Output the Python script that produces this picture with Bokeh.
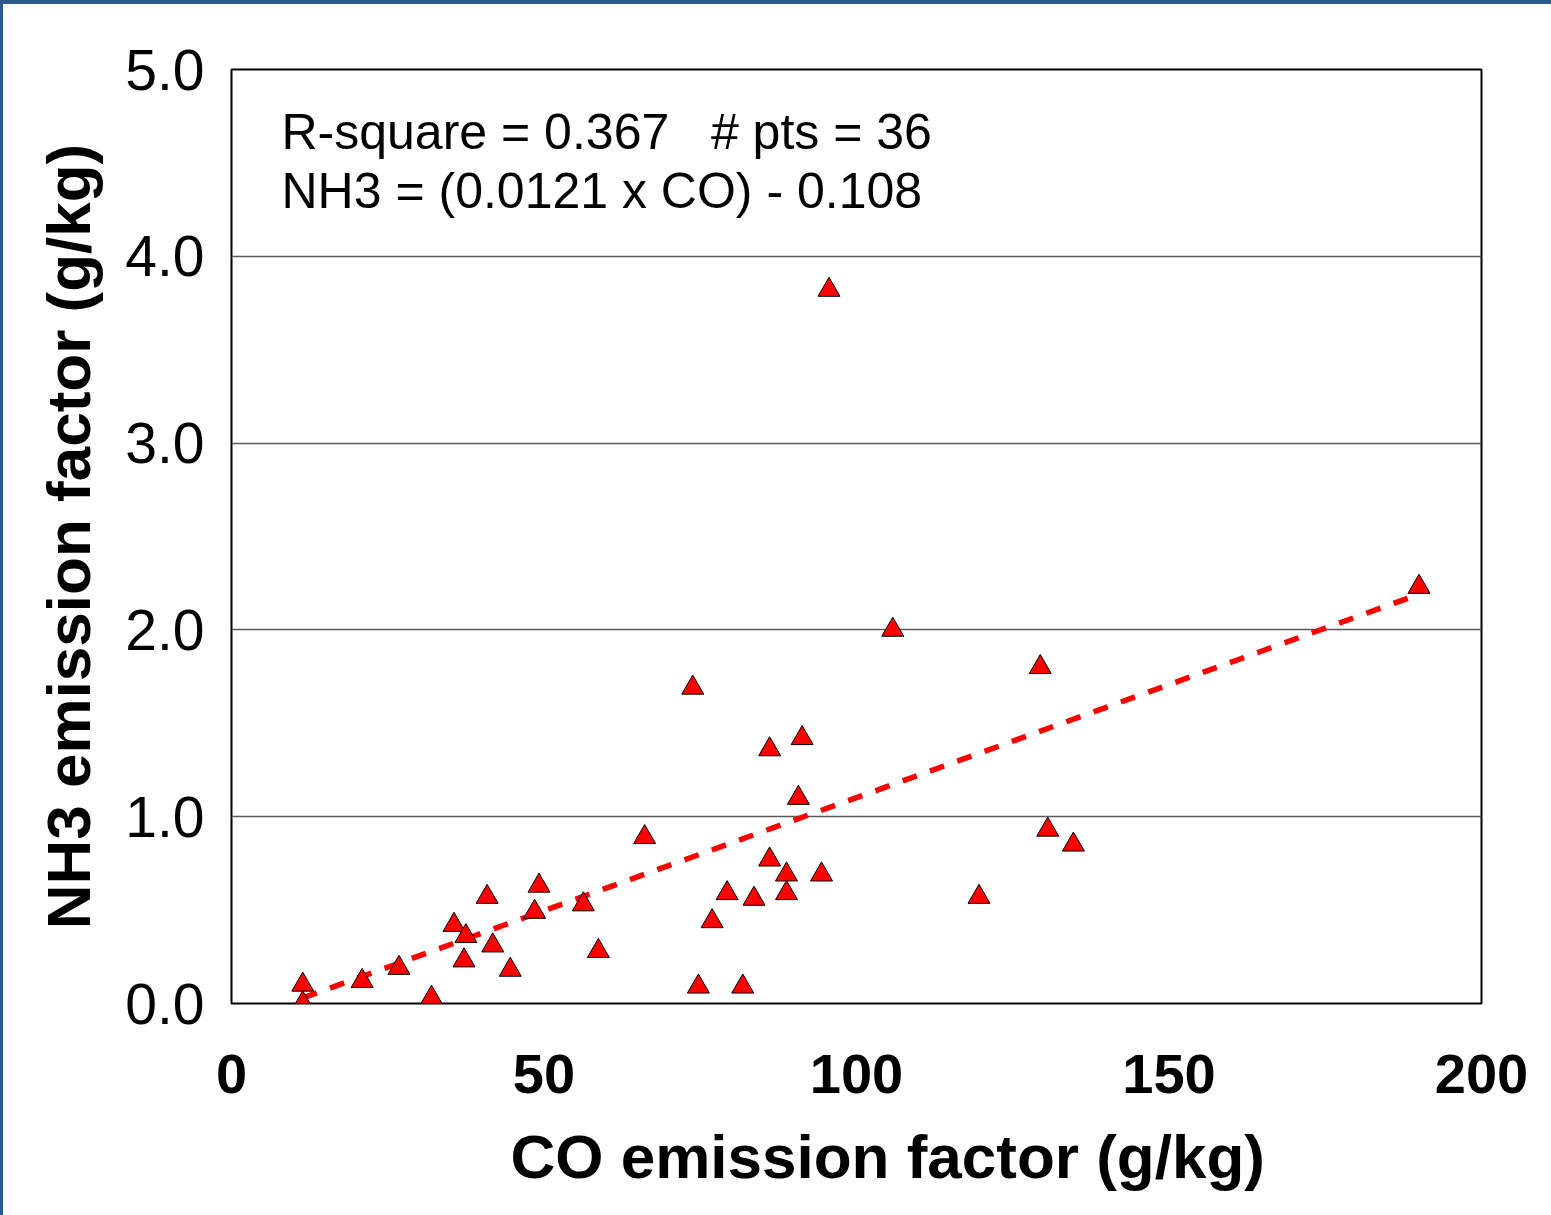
from bokeh.plotting import figure
from bokeh.models import Range1d, FixedTicker, PrintfTickFormatter, Label, ColumnDataSource, Title
from bokeh.embed import file_html
from bokeh.resources import INLINE

# CO and NH3 emission factors (g/kg), one entry per sample
co_ef = [11.4, 11.4, 20.9, 26.8, 32.0, 35.6, 37.5, 37.2, 40.9, 41.8,
         44.6, 48.5, 49.2, 56.3, 58.7, 66.1, 73.8, 74.7, 76.9, 79.3,
         81.8, 83.6, 86.1, 86.1, 88.8, 88.8, 90.7, 91.3, 94.4, 95.6,
         105.8, 119.6, 129.4, 130.6, 134.7, 190.0]
nh3_ef = [0.10, 0.00, 0.12, 0.19, 0.03, 0.42, 0.36, 0.23, 0.57, 0.31,
          0.18, 0.49, 0.63, 0.53, 0.28, 0.89, 1.69, 0.09, 0.44, 0.59,
          0.09, 0.56, 1.36, 0.77, 0.69, 0.59, 1.10, 1.42, 0.69, 3.82,
          2.00, 0.57, 1.80, 0.93, 0.85, 2.23]

# linear fit as reported on the chart
fit_slope = 0.0121
fit_intercept = -0.108
r_square = 0.367

x_ticks = [0, 50, 100, 150, 200]
y_ticks = [0, 1, 2, 3, 4, 5]

FONT = "Liberation Sans"
GAP = "\u00a0\u00a0\u00a0"

p = figure(width=1551, height=1215, output_backend="svg", toolbar_location=None,
           x_range=Range1d(0, 200), y_range=Range1d(0, 5))
p.min_border_left = 231
p.min_border_top = 69
p.min_border_right = 70
p.min_border_bottom = 212
p.background_fill_color = "white"
p.border_fill_color = "white"
p.border_fill_alpha = 0.0
p.outline_line_color = "black"
p.outline_line_width = 2
p.styles = {"box-shadow": "inset 3px 4px 0 #2d5a8c"}

# axes
p.xaxis.ticker = FixedTicker(ticks=x_ticks)
p.yaxis.ticker = FixedTicker(ticks=y_ticks)
p.yaxis.formatter = PrintfTickFormatter(format="%.1f")
for ax in (p.xaxis, p.yaxis):
    ax.axis_line_color = None
    ax.major_tick_line_color = None
    ax.minor_tick_line_color = None
    ax.major_label_text_font = FONT
    ax.major_label_text_color = "black"
    ax.axis_label_text_font = FONT
    ax.axis_label_text_font_style = "bold"
    ax.axis_label_text_font_size = "62px"
    ax.axis_label_text_color = "black"
p.xaxis.major_label_text_font_size = "56px"
p.xaxis.major_label_text_font_style = "bold"
p.xaxis.major_label_standoff = 45
p.yaxis.major_label_text_font_size = "57px"
p.yaxis.major_label_standoff = 21
p.yaxis.axis_label = "NH3 emission factor (g/kg)"
p.yaxis.axis_label_standoff = 19

# x-axis title, set slightly right of the frame centre
x_title = Title(text="CO emission factor (g/kg)", align="left", offset=279,
                text_font=FONT, text_font_size="62px", text_font_style="bold",
                text_color="black", standoff=48)
p.add_layout(x_title, "below")

p.xgrid.grid_line_color = None
p.ygrid.ticker = FixedTicker(ticks=[1, 2, 3, 4])
p.ygrid.grid_line_color = "#5a5a5a"
p.ygrid.grid_line_width = 1.4

# regression line across the range of the samples
x_lo, x_hi = min(co_ef), max(co_ef)
p.line([x_lo, x_hi], [fit_slope * x_lo + fit_intercept, fit_slope * x_hi + fit_intercept],
       line_color="red", line_width=5.5, line_dash="15 14")

src = ColumnDataSource(dict(co=co_ef, nh3=nh3_ef))
p.scatter("co", "nh3", source=src, marker="triangle", size=22,
          fill_color="red", line_color="black", line_width=1)

stats = Label(x=8.0, y=4.667,
              text=f"R-square = {r_square:.3f}{GAP}# pts = {len(co_ef)}",
              text_font=FONT, text_font_size="50px", text_color="black",
              text_baseline="alphabetic")
eqn = Label(x=8.0, y=4.352,
            text=f"NH3 = ({fit_slope:.4f} x CO) - {abs(fit_intercept):.3f}",
            text_font=FONT, text_font_size="50px", text_color="black",
            text_baseline="alphabetic")
p.add_layout(stats)
p.add_layout(eqn)

open("out.html", "w").write(file_html(p, INLINE))
